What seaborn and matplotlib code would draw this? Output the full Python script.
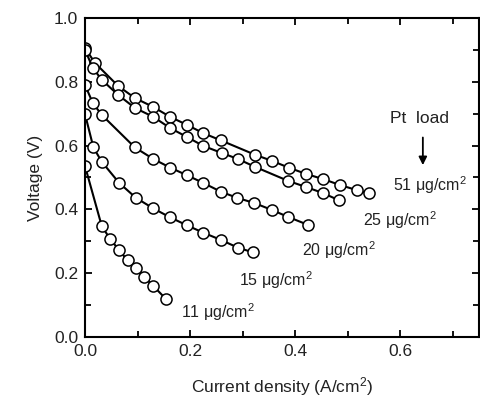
import numpy as np
import pandas as pd
import matplotlib
matplotlib.use("Agg")
import matplotlib.pyplot as plt
import seaborn as sns

# ---------------------- DATA ----------------------
x_51 = [0.0, 0.019, 0.063, 0.095, 0.13, 0.162, 0.194, 0.225, 0.259, 0.324,
        0.356, 0.389, 0.421, 0.453, 0.486, 0.518, 0.54]
v_51 = [0.906, 0.859, 0.787, 0.749, 0.721, 0.69, 0.665, 0.639, 0.616, 0.571,
        0.552, 0.53, 0.511, 0.495, 0.476, 0.46, 0.45]

x_25 = [0.0, 0.015, 0.032, 0.063, 0.095, 0.13, 0.162, 0.194, 0.225, 0.26,
        0.291, 0.324, 0.387, 0.421, 0.453, 0.484]
v_25 = [0.9, 0.843, 0.806, 0.759, 0.718, 0.69, 0.655, 0.627, 0.599, 0.577,
        0.558, 0.533, 0.489, 0.47, 0.451, 0.428]

x_20 = [0.0, 0.015, 0.032, 0.095, 0.13, 0.162, 0.194, 0.225, 0.259, 0.29,
        0.322, 0.356, 0.387, 0.425]
v_20 = [0.79, 0.733, 0.696, 0.594, 0.558, 0.531, 0.507, 0.483, 0.455, 0.436,
        0.42, 0.398, 0.376, 0.351]

x_15 = [0.0, 0.016, 0.032, 0.065, 0.097, 0.13, 0.162, 0.194, 0.225, 0.259,
        0.291, 0.32]
v_15 = [0.699, 0.594, 0.549, 0.483, 0.436, 0.403, 0.375, 0.35, 0.327, 0.304,
        0.28, 0.265]

x_11 = [0.0, 0.032, 0.048, 0.065, 0.081, 0.097, 0.113, 0.13, 0.154]
v_11 = [0.536, 0.347, 0.307, 0.272, 0.24, 0.215, 0.187, 0.16, 0.119]

series_labels = ["51", "25", "20", "15", "11"]
label_x = [0.657, 0.60, 0.484, 0.364, 0.253]
label_y = [0.476, 0.367, 0.273, 0.179, 0.078]

frames = []
for lab, xs, vs in zip(series_labels,
                       [x_51, x_25, x_20, x_15, x_11],
                       [v_51, v_25, v_20, v_15, v_11]):
    frames.append(pd.DataFrame({"current": xs, "voltage": vs, "load": lab}))
df = pd.concat(frames, ignore_index=True)

# ---------------------- PLOT ----------------------
sns.set_style("ticks")
plt.rcParams["font.family"] = ["Liberation Sans", "DejaVu Sans"]
plt.rcParams["mathtext.default"] = "regular"

fig = plt.figure(figsize=(4.81, 4.05), dpi=100)
ax = fig.add_axes([0.1767, 0.168, 0.8193, 0.7876])

for lab in series_labels:
    sub = df[df["load"] == lab]
    sns.lineplot(data=sub, x="current", y="voltage", ax=ax, sort=False,
                 color="black", linewidth=1.5, marker="o", markersize=8,
                 markerfacecolor="white", markeredgecolor="black",
                 markeredgewidth=1.1, legend=False)

for lab, lx, ly in zip(series_labels, label_x, label_y):
    ax.text(lx, ly, f"{lab} μg/cm$^2$", fontsize=11.5, ha="center",
            va="center", color="#222222")

ax.text(0.637, 0.686, "Pt  load", fontsize=12.5, ha="center", va="center",
        color="#222222")
ax.annotate("", xy=(0.643, 0.530), xytext=(0.643, 0.634),
            arrowprops=dict(arrowstyle="-|>", color="black", lw=1.3,
                            mutation_scale=12))

ax.set_xlim(0, 0.75)
ax.set_ylim(0, 1.0)
ax.set_xticks([0.0, 0.2, 0.4, 0.6])
ax.set_yticks([0.0, 0.2, 0.4, 0.6, 0.8, 1.0])
ax.set_xticks(np.arange(0.1, 0.75, 0.2), minor=True)
ax.set_yticks([0.1, 0.3, 0.5, 0.7, 0.9], minor=True)
ax.tick_params(which="both", direction="in", top=True, right=True,
               labelsize=12.5, colors="black", labelcolor="#222222")
ax.tick_params(which="major", length=5, width=1.3, pad=5)
ax.tick_params(which="minor", length=4, width=1.3)
for s in ax.spines.values():
    s.set_linewidth(1.5)
    s.set_color("black")

ax.set_xlabel("Current density (A/cm$^2$)", fontsize=12.5, labelpad=12,
              color="#222222")
ax.set_ylabel("Voltage (V)", fontsize=12.5, labelpad=8, color="#222222")

fig.savefig("out.png", dpi=100)
